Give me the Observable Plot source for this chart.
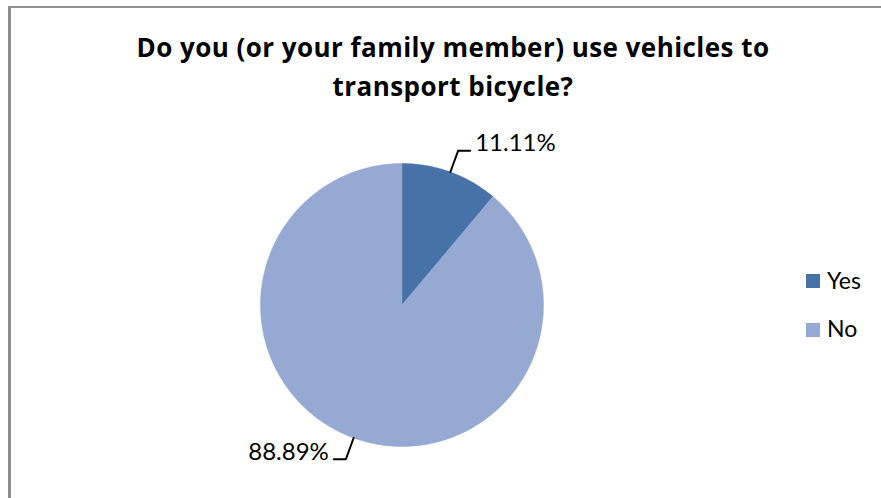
<!DOCTYPE html>
<html><head><meta charset="utf-8">
<script src="https://cdn.jsdelivr.net/npm/d3@7"></script>
<script src="https://cdn.jsdelivr.net/npm/@observablehq/plot@0.6"></script>
<style>
html,body{margin:0;padding:0;background:#fff;width:881px;height:498px;overflow:hidden;}
#frame{position:absolute;left:8px;top:6px;width:1000px;height:1000px;border-left:3px solid #8e8e8e;border-top:2px solid #8e8e8e;}
#title{position:absolute;left:0;top:28px;width:906px;text-align:center;font-family:"Open Sans";font-weight:bold;font-size:26px;letter-spacing:0.45px;line-height:39px;color:#000;}
#chart{position:absolute;left:0;top:110px;}
.sw{position:absolute;width:14px;height:14px;}
.lg{position:absolute;font-family:Lato;font-size:23px;line-height:23px;color:#000;white-space:nowrap;}
</style>
</head><body>
<div id="frame"></div>
<div id="title">Do you (or your family member) use vehicles to<br>transport bicycle?</div>
<div id="chart"></div>
<div id="legend"></div>
<script>
const categories = ["Yes", "No"];
const values = [11.11, 88.89];
const colors = ["#4672A8", "#95A9D2"];
const labelTexts = ["11.11%", "88.89%"];

const total = d3.sum(values);
const slicePts = [];
const leaderPts = [];
const labels = [];
let acc = 0;
categories.forEach((c, i) => {
  const a0 = acc / total * 2 * Math.PI;
  acc += values[i];
  const a1 = acc / total * 2 * Math.PI;
  slicePts.push({label: c, x: 0, y: 0});
  const steps = Math.max(2, Math.ceil((a1 - a0) / (Math.PI / 360)));
  for (let k = 0; k <= steps; k++) {
    const a = a0 + (a1 - a0) * k / steps;
    slicePts.push({label: c, x: Math.sin(a), y: Math.cos(a)});
  }
  slicePts.push({label: c, x: 0, y: 0});
  const m = (a0 + a1) / 2;
  const right = Math.sin(m) >= 0;
  const r2 = 1.16;
  const ex = r2 * Math.sin(m), ey = r2 * Math.cos(m);
  const hx = ex + (right ? 0.085 : -0.085);
  leaderPts.push({label: c, x: Math.sin(m), y: Math.cos(m)});
  leaderPts.push({label: c, x: ex, y: ey});
  leaderPts.push({label: c, x: hx, y: ey});
  labels.push({text: labelTexts[i], x: hx, y: ey, right});
});

const chart = Plot.plot({
  width: 881, height: 388,
  marginLeft: 260, marginRight: 338, marginTop: 53, marginBottom: 52,
  x: {domain: [-1, 1], axis: null},
  y: {domain: [-1, 1], axis: null},
  color: {domain: categories, range: colors},
  style: {fontFamily: "Lato", fontSize: "24px", background: "transparent", overflow: "visible", color: "#000"},
  marks: [
    Plot.line(slicePts, {x: "x", y: "y", z: "label", fill: "label", stroke: "label", strokeWidth: 0.5, curve: "linear"}),
    Plot.line(leaderPts, {x: "x", y: "y", z: "label", stroke: "#000", strokeWidth: 2, curve: "linear"}),
    Plot.text(labels.filter(d => d.right), {x: "x", y: "y", text: "text", textAnchor: "start", dx: 5, dy: -7, fill: "#000", fontSize: 24}),
    Plot.text(labels.filter(d => !d.right), {x: "x", y: "y", text: "text", textAnchor: "end", dx: -5, dy: -7, fill: "#000", fontSize: 24})
  ]
});
document.getElementById("chart").appendChild(chart);

const legend = document.getElementById("legend");
categories.forEach((c, i) => {
  const top = 274 + i * 48.5;
  const sw = document.createElement("div");
  sw.className = "sw";
  sw.style.left = "806px"; sw.style.top = top + "px"; sw.style.background = colors[i];
  legend.appendChild(sw);
  const t = document.createElement("div");
  t.className = "lg";
  t.style.left = "827px"; t.style.top = (top - 5.5) + "px";
  t.textContent = c;
  legend.appendChild(t);
});
</script>
</body></html>
